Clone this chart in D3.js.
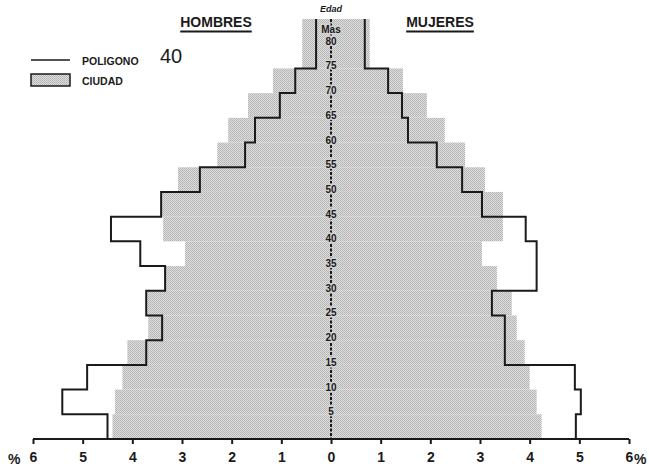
<!DOCTYPE html>
<html>
<head>
<meta charset="utf-8">
<script src="https://cdn.jsdelivr.net/npm/d3@7"></script>
<style>
  html, body { margin: 0; padding: 0; background: #fff; }
  svg { display: block; font-family: "Liberation Sans", Arial, sans-serif; }
</style>
</head>
<body>
<div id="chart"></div>
<script>
// grupos de edad (inicio de cada tramo de 5 años, el último es 75 y más)
const ageStarts = [0, 5, 10, 15, 20, 25, 30, 35, 40, 45, 50, 55, 60, 65, 70, 75];
const ageTop = 85;

// % de población por grupo de edad
const hombresCiudad   = [4.40, 4.35, 4.20, 4.10, 3.68, 3.70, 3.34, 2.94, 3.38, 3.40, 3.08, 2.29, 2.07, 1.67, 1.17, 0.58];
const mujeresCiudad   = [4.24, 4.14, 4.00, 3.90, 3.74, 3.64, 3.34, 3.04, 3.46, 3.46, 3.10, 2.70, 2.29, 1.93, 1.45, 0.78];
const hombresPoligono = [4.50, 5.41, 4.91, 3.72, 3.40, 3.72, 3.34, 3.84, 4.43, 3.42, 2.64, 1.73, 1.53, 1.03, 0.72, 0.30];
const mujeresPoligono = [4.93, 5.03, 4.91, 3.50, 3.50, 3.24, 4.14, 4.14, 3.92, 3.04, 2.64, 2.13, 1.55, 1.43, 1.15, 0.68];

// etiquetas del eje central
const ageTickValues = [5, 10, 15, 20, 25, 30, 35, 40, 45, 50, 55, 60, 65, 70, 75, 80, 82.4];
const ageTickLabels = ["5", "10", "15", "20", "25", "30", "35", "40", "45", "50", "55", "60", "65", "70", "75", "80", "Mas"];
const pctTicks = [0, 1, 2, 3, 4, 5, 6];

const width = 649, height = 471;
const cx = 331, axisY = 439;

const svg = d3.select("#chart").append("svg")
  .attr("width", width)
  .attr("height", height);

const defs = svg.append("defs");
const pat = defs.append("pattern")
  .attr("id", "halftone")
  .attr("width", 2).attr("height", 2)
  .attr("patternUnits", "userSpaceOnUse");
pat.append("rect").attr("width", 2).attr("height", 2).attr("fill", "#dedede");
pat.append("rect").attr("width", 1).attr("height", 1).attr("fill", "#b2b2b2");
pat.append("rect").attr("x", 1).attr("y", 1).attr("width", 1).attr("height", 1).attr("fill", "#bababa");

const xR = d3.scaleLinear().domain([0, 6]).range([cx, 629]);
const xL = d3.scaleLinear().domain([0, 6]).range([cx, 33]);
const y = d3.scaleLinear().domain([0, ageTop]).range([axisY, 19]);

const groups = ageStarts.map((a, i) => ({
  start: a,
  end: i < ageStarts.length - 1 ? ageStarts[i + 1] : ageTop,
  hc: hombresCiudad[i],
  mc: mujeresCiudad[i],
  hp: hombresPoligono[i],
  mp: mujeresPoligono[i]
}));

// barras ciudad
svg.append("g")
  .selectAll("rect")
  .data(groups)
  .join("rect")
    .attr("x", d => xL(d.hc))
    .attr("y", d => y(d.end))
    .attr("width", d => cx - xL(d.hc))
    .attr("height", d => y(d.start) - y(d.end))
    .attr("fill", "url(#halftone)");

svg.append("g")
  .selectAll("rect")
  .data(groups)
  .join("rect")
    .attr("x", cx)
    .attr("y", d => y(d.end))
    .attr("width", d => xR(d.mc) - cx)
    .attr("height", d => y(d.start) - y(d.end))
    .attr("fill", "url(#halftone)");

// poligono 40 (escalonado, de arriba hacia abajo)
const stepPoints = (key, xs) => {
  const pts = [];
  groups.slice().reverse().forEach(d => {
    pts.push([xs(d[key]), y(d.end)]);
    pts.push([xs(d[key]), y(d.start)]);
  });
  return pts;
};
const line = d3.line();

svg.append("path")
  .attr("d", line(stepPoints("hp", xL)))
  .attr("fill", "none")
  .attr("stroke", "#1a1a1a")
  .attr("stroke-width", 2);

svg.append("path")
  .attr("d", line(stepPoints("mp", xR)))
  .attr("fill", "none")
  .attr("stroke", "#1a1a1a")
  .attr("stroke-width", 2);

// eje horizontal
const axR = svg.append("g")
  .attr("transform", `translate(0,${axisY})`)
  .call(d3.axisBottom(xR).tickValues(pctTicks).tickSize(5).tickPadding(8).tickFormat(d3.format("d")));
const axL = svg.append("g")
  .attr("transform", `translate(0,${axisY})`)
  .call(d3.axisBottom(xL).tickValues(pctTicks.slice(1)).tickSize(5).tickPadding(8).tickFormat(d3.format("d")));

[axR, axL].forEach(g => {
  g.select(".domain").remove();
  g.selectAll("line").attr("stroke", "#1a1a1a").attr("stroke-width", 2);
  g.selectAll("text")
    .attr("fill", "#1a1a1a")
    .style("font-size", "14px")
    .style("font-weight", "bold");
});

svg.append("line")
  .attr("x1", xL(6)).attr("x2", xR(6))
  .attr("y1", axisY).attr("y2", axisY)
  .attr("stroke", "#1a1a1a")
  .attr("stroke-width", 2);

svg.append("text")
  .attr("x", 8).attr("y", 464)
  .attr("fill", "#1a1a1a")
  .style("font-size", "14px").style("font-weight", "bold")
  .text("%");
svg.append("text")
  .attr("x", 634).attr("y", 464)
  .attr("fill", "#1a1a1a")
  .style("font-size", "14px").style("font-weight", "bold")
  .text("%");

// eje central de edades
svg.append("line")
  .attr("x1", cx).attr("x2", cx)
  .attr("y1", y(ageTop)).attr("y2", axisY)
  .attr("stroke", "#1a1a1a")
  .attr("stroke-width", 2)
  .attr("stroke-dasharray", "3,1.5");

svg.append("g")
  .selectAll("text")
  .data(ageTickValues)
  .join("text")
    .attr("x", cx)
    .attr("y", d => y(d) + 1)
    .attr("text-anchor", "middle")
    .attr("fill", "#1a1a1a")
    .attr("stroke", "#d2d2d2")
    .attr("stroke-width", 3)
    .attr("paint-order", "stroke")
    .style("font-size", "10px")
    .style("font-weight", "bold")
    .text((d, i) => ageTickLabels[i]);

svg.append("text")
  .attr("x", cx).attr("y", 12)
  .attr("text-anchor", "middle")
  .attr("fill", "#1a1a1a")
  .style("font-size", "9px")
  .style("font-weight", "bold")
  .style("font-style", "italic")
  .text("Edad");

// titulos
const titles = [
  { text: "HOMBRES", x: 216 },
  { text: "MUJERES", x: 440 }
];
titles.forEach(t => {
  const txt = svg.append("text")
    .attr("x", t.x).attr("y", 27)
    .attr("text-anchor", "middle")
    .attr("fill", "#1a1a1a")
    .style("font-size", "14px")
    .style("font-weight", "bold")
    .text(t.text);
  const w = txt.node().getComputedTextLength();
  svg.append("line")
    .attr("x1", t.x - w / 2).attr("x2", t.x + w / 2)
    .attr("y1", 31.5).attr("y2", 31.5)
    .attr("stroke", "#1a1a1a")
    .attr("stroke-width", 2);
});

// leyenda
const legend = svg.append("g");
legend.append("line")
  .attr("x1", 31).attr("x2", 70)
  .attr("y1", 60).attr("y2", 60)
  .attr("stroke", "#1a1a1a")
  .attr("stroke-width", 1.5);
legend.append("text")
  .attr("x", 82).attr("y", 65)
  .attr("fill", "#1a1a1a")
  .style("font-size", "10.5px").style("font-weight", "bold")
  .text("POLIGONO");
legend.append("text")
  .attr("x", 160).attr("y", 63)
  .attr("fill", "#1a1a1a")
  .style("font-size", "20px")
  .text("40");
legend.append("rect")
  .attr("x", 31).attr("y", 74)
  .attr("width", 39).attr("height", 12)
  .attr("fill", "url(#halftone)")
  .attr("stroke", "#1a1a1a")
  .attr("stroke-width", 1.5);
legend.append("text")
  .attr("x", 82).attr("y", 85)
  .attr("fill", "#1a1a1a")
  .style("font-size", "10.5px").style("font-weight", "bold")
  .text("CIUDAD");
</script>
</body>
</html>
